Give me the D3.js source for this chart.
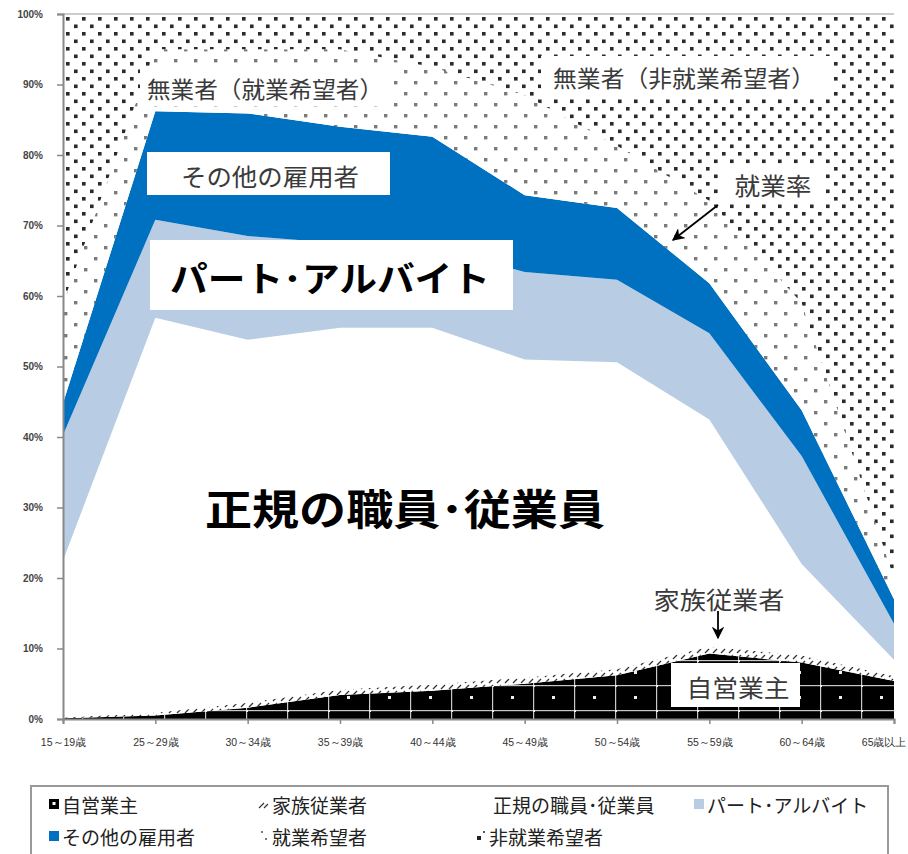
<!DOCTYPE html>
<html>
<head>
<meta charset="utf-8">
<script src="https://cdn.jsdelivr.net/npm/d3@7"></script>
<style>
  html, body { margin: 0; padding: 0; background: #fff; }
  svg { display: block; font-family: "Noto Sans CJK JP", "Noto Sans", sans-serif; }
</style>
</head>
<body>
<svg id="chart" width="908" height="854"></svg>
<script>
// Age groups on the category axis
const ageGroups = ["15～19歳", "25～29歳", "30～34歳", "35～39歳", "40～44歳",
                   "45～49歳", "50～54歳", "55～59歳", "60～64歳", "65歳以上"];

// Share of the population (%) in each status, stacked from the bottom up
const selfEmployed   = [0.1, 0.5, 1.6, 3.4, 4.0, 5.0, 6.2, 9.3, 8.0, 5.4];
const familyWorkers  = [0.1, 0.4, 0.7, 0.8, 0.9, 0.9, 0.9, 1.0, 1.0, 0.7];
const regularStaff   = [22.3, 56.0, 51.5, 51.3, 50.6, 45.1, 43.5, 32.2, 13.0, 2.3];
const partTime       = [17.8, 13.9, 14.7, 12.0, 11.5, 12.4, 11.7, 12.2, 15.3, 5.1];
const otherEmployees = [4.5, 15.4, 17.4, 16.5, 15.6, 10.9, 10.2, 7.1, 6.5, 3.5];
const jobSeekers     = [14.2, 8.8, 9.1, 11.0, 9.9, 14.2, 8.8, 11.7, 15.2, 3.0];
const nonSeekers     = [41.0, 5.0, 5.0, 5.0, 7.5, 11.5, 18.7, 26.5, 41.0, 80.0];

const yTicks = [0, 10, 20, 30, 40, 50, 60, 70, 80, 90, 100];

const seriesKeys = ["self", "family", "regular", "part", "other", "seek", "nonseek"];
const seriesNames = {
  self: "自営業主", family: "家族従業者", regular: "正規の職員･従業員",
  part: "パート･アルバイト", other: "その他の雇用者", seek: "就業希望者", nonseek: "非就業希望者"
};

const rows = ageGroups.map((g, i) => ({
  group: g,
  self: selfEmployed[i], family: familyWorkers[i], regular: regularStaff[i],
  part: partTime[i], other: otherEmployees[i], seek: jobSeekers[i], nonseek: nonSeekers[i]
}));

const svg = d3.select("#chart");
const plot = { left: 63, right: 894, top: 14, bottom: 719 };

const x = d3.scalePoint().domain(ageGroups).range([plot.left, plot.right]);
const y = d3.scaleLinear().domain([0, 100]).range([plot.bottom, plot.top]);

// ---- fill patterns ----
const defs = svg.append("defs");

// dense black dots: not seeking work
const pDense = defs.append("pattern").attr("id", "pat-nonseek")
  .attr("patternUnits", "userSpaceOnUse").attr("width", 16).attr("height", 15);
pDense.append("rect").attr("width", 16).attr("height", 15).attr("fill", "#fff");
pDense.append("rect").attr("x", 2).attr("y", 2).attr("width", 3.6).attr("height", 3.6).attr("fill", "#2a2a2a");
pDense.append("rect").attr("x", 10).attr("y", 9.5).attr("width", 3.6).attr("height", 3.6).attr("fill", "#2a2a2a");

// sparse grey dots: seeking work
const pSparse = defs.append("pattern").attr("id", "pat-seek")
  .attr("patternUnits", "userSpaceOnUse").attr("width", 20).attr("height", 22);
pSparse.append("rect").attr("width", 20).attr("height", 22).attr("fill", "#fff");
pSparse.append("rect").attr("x", 4).attr("y", 4).attr("width", 3.4).attr("height", 3.4).attr("fill", "#7a7a7a");
pSparse.append("rect").attr("x", 14).attr("y", 15).attr("width", 3.4).attr("height", 3.4).attr("fill", "#7a7a7a");

// short slanted strokes: family workers
const pFam = defs.append("pattern").attr("id", "pat-family")
  .attr("patternUnits", "userSpaceOnUse").attr("width", 8).attr("height", 6);
pFam.append("rect").attr("width", 8).attr("height", 6).attr("fill", "#fff");
pFam.append("path").attr("d", "M1,5 L5,1").attr("stroke", "#333").attr("stroke-width", 1.2);

// black with white grid and dots: self-employed
const pSelf = defs.append("pattern").attr("id", "pat-self")
  .attr("patternUnits", "userSpaceOnUse").attr("x", 0).attr("y", 10)
  .attr("width", 41).attr("height", 25);
pSelf.append("rect").attr("width", 41).attr("height", 25).attr("fill", "#000");
pSelf.append("rect").attr("x", 0).attr("y", 0).attr("width", 41).attr("height", 1.2).attr("fill", "#c8c8c8");
pSelf.append("rect").attr("x", 0).attr("y", 0).attr("width", 1.2).attr("height", 25).attr("fill", "#c8c8c8");
pSelf.append("rect").attr("x", 19).attr("y", 11).attr("width", 3).attr("height", 3).attr("fill", "#eee");
pSelf.append("rect").attr("x", -1).attr("y", -1).attr("width", 3).attr("height", 3).attr("fill", "#eee");

const fills = {
  self: "url(#pat-self)", family: "url(#pat-family)", regular: "#ffffff",
  part: "#b8cce4", other: "#0070c0", seek: "url(#pat-seek)", nonseek: "url(#pat-nonseek)"
};

// ---- stacked areas ----
const stacked = d3.stack().keys(seriesKeys)(rows);
const area = d3.area()
  .x(d => x(d.data.group))
  .y0(d => y(d[0]))
  .y1(d => y(d[1]));

svg.append("g").selectAll("path")
  .data(stacked)
  .join("path")
  .attr("d", area)
  .attr("fill", d => fills[d.key]);

// top border of the plot
svg.append("line")
  .attr("x1", plot.left).attr("x2", plot.right)
  .attr("y1", y(100)).attr("y2", y(100))
  .attr("stroke", "#bbb").attr("stroke-width", 1.5);

// ---- axes ----
const yAxis = d3.axisLeft(y).tickValues(yTicks).tickFormat(d => d + "%").tickSize(6).tickPadding(14);
const gy = svg.append("g").attr("transform", `translate(${plot.left},0)`).call(yAxis);
gy.select(".domain").attr("stroke", "#888").attr("stroke-width", 2);
gy.selectAll(".tick line").attr("stroke", "#888").attr("stroke-width", 1.5);
gy.selectAll(".tick text").attr("fill", "#444").attr("font-size", 10).attr("font-weight", "bold")
  .attr("font-family", "Liberation Sans, Arial, sans-serif");

const xAxis = d3.axisBottom(x).tickSize(5).tickPadding(15);
const gx = svg.append("g").attr("transform", `translate(0,${plot.bottom})`).call(xAxis);
gx.select(".domain").attr("stroke", "#888").attr("stroke-width", 2);
gx.selectAll(".tick line").attr("stroke", "#888").attr("stroke-width", 1.5);
gx.selectAll(".tick text").attr("fill", "#333").attr("font-size", 10.5);
// keep the last category label inside the page
gx.selectAll(".tick text").filter(d => d === ageGroups[ageGroups.length - 1])
  .attr("text-anchor", "end").attr("x", 906 - plot.right);

// ---- annotations ----
const ann = svg.append("g");

function boxLabel(bx, by, bw, bh, text, opts) {
  ann.append("rect").attr("x", bx).attr("y", by).attr("width", bw).attr("height", bh).attr("fill", "#fff");
  const t = ann.append("text")
    .attr("x", opts.cx).attr("y", opts.cy)
    .attr("text-anchor", "middle").attr("dominant-baseline", "central")
    .attr("font-size", opts.size).attr("fill", opts.color || "#3a3a3a")
    .attr("font-weight", opts.weight || "normal")
    .text(text);
  if (opts.len) t.attr("textLength", opts.len).attr("lengthAdjust", "spacingAndGlyphs");
}

boxLabel(140, 68, 252, 38, "無業者（就業希望者）", { cx: 265, cy: 88, size: 23, len: 236 });
boxLabel(541, 56, 290, 42, "無業者（非就業希望者）", { cx: 684, cy: 77, size: 23, len: 262 });
boxLabel(147, 152, 243, 43, "その他の雇用者", { cx: 270, cy: 175, size: 24, len: 178 });
boxLabel(150, 240, 363, 70, "パート･アルバイト", { cx: 330, cy: 276, size: 35, weight: "bold", color: "#000", len: 320 });
boxLabel(722, 166, 104, 37, "就業率", { cx: 773, cy: 184, size: 24, len: 77 });
boxLabel(671, 663, 129, 44, "自営業主", { cx: 738, cy: 686, size: 24, len: 103 });

ann.append("text")
  .attr("x", 405).attr("y", 506)
  .attr("text-anchor", "middle").attr("dominant-baseline", "central")
  .attr("font-size", 42).attr("font-weight", "bold").attr("fill", "#000")
  .attr("textLength", 400).attr("lengthAdjust", "spacingAndGlyphs")
  .text("正規の職員･従業員");

ann.append("text")
  .attr("x", 719).attr("y", 598)
  .attr("text-anchor", "middle").attr("dominant-baseline", "central")
  .attr("font-size", 24).attr("fill", "#3a3a3a")
  .attr("textLength", 131).attr("lengthAdjust", "spacingAndGlyphs")
  .text("家族従業者");

defs.append("marker").attr("id", "arrow")
  .attr("viewBox", "0 0 10 10").attr("refX", 9).attr("refY", 5)
  .attr("markerWidth", 7).attr("markerHeight", 7).attr("orient", "auto")
  .append("path").attr("d", "M0,0 L10,5 L0,10 L3,5 Z").attr("fill", "#000");

ann.append("line").attr("x1", 718).attr("y1", 205).attr("x2", 673).attr("y2", 240)
  .attr("stroke", "#000").attr("stroke-width", 1.8).attr("marker-end", "url(#arrow)");
ann.append("line").attr("x1", 718).attr("y1", 611).attr("x2", 718).attr("y2", 638)
  .attr("stroke", "#000").attr("stroke-width", 1.8).attr("marker-end", "url(#arrow)");

// ---- legend ----
const leg = svg.append("g");
leg.append("rect").attr("x", 31).attr("y", 786).attr("width", 857).attr("height", 90)
  .attr("fill", "#fff").attr("stroke", "#999").attr("stroke-width", 2);

const legendItems = [
  { key: "self",    mx: 49,  tx: 62,  row: 0 },
  { key: "family",  mx: 259, tx: 272, row: 0 },
  { key: "regular", mx: 480, tx: 493, row: 0 },
  { key: "part",    mx: 694, tx: 707, row: 0 },
  { key: "other",   mx: 49,  tx: 62,  row: 1 },
  { key: "seek",    mx: 259, tx: 272, row: 1 },
  { key: "nonseek", mx: 476, tx: 489, row: 1 }
];
const rowY = [804, 836];

legendItems.forEach(it => {
  const cy = rowY[it.row];
  const g = leg.append("g");
  if (it.key === "self") {
    g.append("rect").attr("x", it.mx).attr("y", cy - 5).attr("width", 10).attr("height", 10).attr("fill", "#000");
    g.append("rect").attr("x", it.mx + 3.5).attr("y", cy - 2).attr("width", 3).attr("height", 3).attr("fill", "#fff");
  } else if (it.key === "family") {
    g.append("path").attr("d", `M${it.mx},${cy + 4} L${it.mx + 5},${cy - 1} M${it.mx + 5},${cy + 4} L${it.mx + 9},${cy}`)
      .attr("stroke", "#333").attr("stroke-width", 1.2);
  } else if (it.key === "seek") {
    g.append("rect").attr("x", it.mx + 2).attr("y", cy - 5).attr("width", 2).attr("height", 2).attr("fill", "#777");
    g.append("rect").attr("x", it.mx + 6).attr("y", cy + 2).attr("width", 2).attr("height", 2).attr("fill", "#777");
  } else if (it.key === "nonseek") {
    g.append("rect").attr("x", it.mx + 1).attr("y", cy).attr("width", 4).attr("height", 4).attr("fill", "#222");
    g.append("rect").attr("x", it.mx + 7).attr("y", cy - 5).attr("width", 2).attr("height", 2).attr("fill", "#555");
  } else {
    g.append("rect").attr("x", it.mx).attr("y", cy - 5).attr("width", 10).attr("height", 10).attr("fill", fills[it.key]);
  }
  g.append("text")
    .attr("x", it.tx).attr("y", cy)
    .attr("dominant-baseline", "central")
    .attr("font-size", 19).attr("fill", "#222")
    .text(seriesNames[it.key]);
});
</script>
</body>
</html>
